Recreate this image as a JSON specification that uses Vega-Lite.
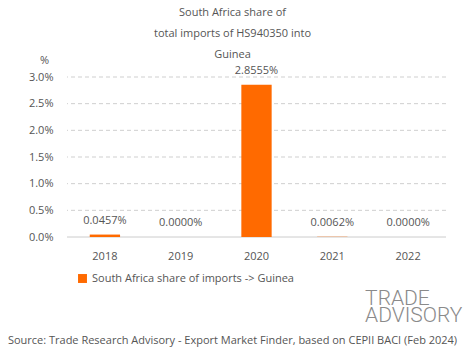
{
  "$schema": "https://vega.github.io/schema/vega-lite/v6.json",
  "autosize": "none",
  "width": 379,
  "height": 160,
  "padding": {"left": 67, "top": 77, "right": 19, "bottom": 122},
  "background": "white",
  "config": {
    "font": "Open Sans",
    "view": {"stroke": null},
    "axisX": {
      "labelAngle": 0, "ticks": false, "labelPadding": 13,
      "labelFontSize": 11, "labelColor": "#555555",
      "domain": false, "grid": false,
      "titleFontSize": 11, "titleFontWeight": "normal", "titleColor": "#555555",
      "titleX": 165, "titleY": 103, "titleBaseline": "middle", "titleAlign": "center"
    },
    "axisY": {
      "labelOverlap": false,
      "ticks": false, "domain": false, "labelPadding": 14,
      "labelFontSize": 11, "labelColor": "#555555",
      "grid": false,
      "titleAngle": 0, "titleX": -23, "titleY": -17,
      "titleAlign": "center", "titleBaseline": "middle",
      "titleFontSize": 11, "titleFontWeight": "normal", "titleColor": "#555555"
    }
  },
  "title": {
    "text": ["South Africa share of", "total imports of HS940350 into", "Guinea"],
    "fontSize": 11,
    "fontWeight": "normal",
    "color": "#555555",
    "anchor": "middle",
    "dx": -24,
    "offset": -6,
    "lineHeight": 21
  },
  "datasets": {
    "shares": [
      {"year": "2018", "share": 0.0457, "label": "0.0457%", "series": "South Africa share of imports -> Guinea"},
      {"year": "2019", "share": 0.0, "label": "0.0000%", "series": "South Africa share of imports -> Guinea"},
      {"year": "2020", "share": 2.8555, "label": "2.8555%", "series": "South Africa share of imports -> Guinea"},
      {"year": "2021", "share": 0.0062, "label": "0.0062%", "series": "South Africa share of imports -> Guinea"},
      {"year": "2022", "share": 0.0, "label": "0.0000%", "series": "South Africa share of imports -> Guinea"}
    ],
    "gridlines": [
      {"share": 0.5}, {"share": 1.0}, {"share": 1.5}, {"share": 2.0}, {"share": 2.5}, {"share": 3.0}
    ],
    "baseline": [
      {"share": 0}
    ],
    "logo": [
      {"year": "2022", "pos": -1.17, "word": "TRADE"},
      {"year": "2022", "pos": -1.48, "word": "ADVISORY"}
    ]
  },
  "encoding": {
    "y": {
      "field": "share", "type": "quantitative",
      "scale": {"domain": [0, 3]},
      "axis": {
        "title": "%",
        "values": [0, 0.5, 1, 1.5, 2, 2.5, 3],
        "labelExpr": "format(datum.value, '.1f') + '%'"
      }
    }
  },
  "layer": [
    {
      "data": {"name": "gridlines"},
      "mark": {"type": "rule", "color": "#cfcfcf", "strokeDash": [4, 3], "strokeWidth": 1},
      "encoding": {}
    },
    {
      "data": {"name": "baseline"},
      "mark": {"type": "rule", "color": "#cccccc", "strokeWidth": 1},
      "encoding": {}
    },
    {
      "data": {"name": "shares"},
      "mark": {"type": "bar"},
      "encoding": {
        "x": {
          "field": "year", "type": "ordinal",
          "scale": {"paddingInner": 0.6, "paddingOuter": 0.3},
          "axis": {"title": "Source: Trade Research Advisory - Export Market Finder, based on CEPII BACI (Feb 2024)"}
        },
        "color": {
          "field": "series", "type": "nominal",
          "scale": {"range": ["#ff6a00"]},
          "legend": {
            "title": null, "orient": "none", "legendX": 10, "legendY": 196,
            "symbolType": "square", "symbolSize": 80, "labelLimit": 400,
            "labelFontSize": 11, "labelColor": "#555555"
          }
        }
      }
    },
    {
      "data": {"name": "shares"},
      "mark": {"type": "text", "dy": -14, "baseline": "middle", "fontSize": 11, "color": "#555555"},
      "encoding": {
        "x": {"field": "year", "type": "ordinal",
          "axis": {"title": "Source: Trade Research Advisory - Export Market Finder, based on CEPII BACI (Feb 2024)"}},
        "text": {"field": "label"}
      }
    },
    {
      "data": {"name": "logo"},
      "mark": {"type": "text", "align": "left", "dx": -43, "baseline": "middle", "fontSize": 21, "font": "Roboto", "fontWeight": 300, "color": "#8a8a8a"},
      "encoding": {
        "x": {"field": "year", "type": "ordinal",
          "axis": {"title": "Source: Trade Research Advisory - Export Market Finder, based on CEPII BACI (Feb 2024)"}},
        "y": {"field": "pos", "type": "quantitative", "scale": {"domain": [0, 3]},
          "axis": {
            "title": "%",
            "values": [0, 0.5, 1, 1.5, 2, 2.5, 3],
            "labelExpr": "format(datum.value, '.1f') + '%'"
          }},
        "text": {"field": "word"}
      }
    }
  ]
}
